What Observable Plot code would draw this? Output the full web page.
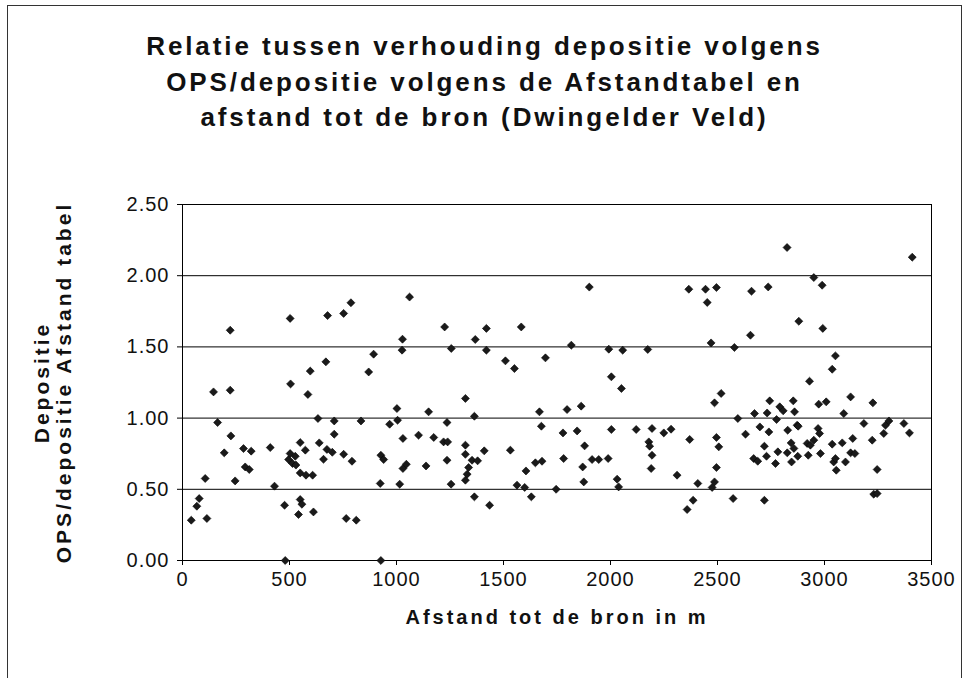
<!DOCTYPE html>
<html>
<head>
<meta charset="utf-8">
<script src="https://cdn.jsdelivr.net/npm/d3@7"></script>
<script src="https://cdn.jsdelivr.net/npm/@observablehq/plot@0.6"></script>
<style>
  html, body { margin: 0; padding: 0; background: #fff; }
  #wrap { position: relative; width: 969px; height: 678px; overflow: hidden; font-family: "Liberation Sans", Arial, sans-serif; }
  #border { position: absolute; left: 7px; top: 5px; width: 955px; height: 700px; border: 1px solid #333; box-sizing: border-box; }
  #title { position: absolute; left: 0; top: 29px; width: 969px; text-align: center; font-weight: bold; font-size: 26px; line-height: 35.5px; letter-spacing: 2.9px; color: #111; }
  #chart { position: absolute; left: 0; top: 180px; }
  g[aria-label="y-axis tick label"] text, g[aria-label="x-axis tick label"] text { letter-spacing: 1px; }
  g[font-weight="bold"] text { letter-spacing: 3px; }
</style>
</head>
<body>
<div id="wrap">
  <div id="border"></div>
  <div id="title">Relatie tussen verhouding depositie volgens<br>OPS/depositie volgens de Afstandtabel en<br>afstand tot de bron (Dwingelder Veld)</div>
  <div id="chart"></div>
</div>
<script>
// Distance to source (m)
const distance = [41,67,78,106,114,145,164,195,223,223,226,246,285,293,312,321,410,430,477,480,
496,503,503,505,514,527,530,542,550,550,550,558,574,577,586,597,608,612,633,639,
659,670,675,678,700,709,709,753,753,765,787,792,812,834,870,893,924,927,927,940,
968,1002,1005,1015,1026,1028,1030,1030,1046,1061,1103,1138,1150,1174,1220,1225,1236,1236,1239,1255,
1256,1322,1322,1322,1322,1330,1337,1353,1364,1364,1368,1379,1410,1420,1420,1435,1509,1532,1551,1563,
1583,1599,1605,1630,1649,1668,1677,1680,1696,1746,1778,1781,1797,1817,1844,1863,1870,1875,1879,1901,
1914,1945,1989,1992,2004,2004,2031,2038,2051,2057,2120,2174,2179,2183,2190,2194,2194,2249,2283,2311,
2358,2366,2370,2386,2408,2444,2452,2470,2475,2486,2486,2495,2495,2495,2506,2517,2573,2579,2595,2631,
2654,2659,2669,2673,2688,2698,2719,2719,2729,2732,2737,2740,2744,2771,2776,2782,2791,2807,2825,2826,
2828,2844,2846,2854,2857,2860,2872,2875,2877,2880,2919,2924,2930,2934,2950,2950,2970,2973,2977,2981,
2989,2992,3008,3036,3036,3043,3051,3051,3055,3083,3090,3098,3122,3122,3132,3142,3184,3223,3226,3230,
3246,3246,3277,3285,3301,3371,3397,3410];
// Ratio deposition OPS / deposition Afstandtabel
const ratio = [0.283,0.381,0.435,0.576,0.295,1.184,0.969,0.756,1.617,1.196,0.875,0.559,0.786,0.657,0.639,0.768,0.793,0.522,0.388,0.00,
0.709,1.70,0.751,1.24,0.681,0.732,0.67,0.323,0.828,0.615,0.428,0.395,0.775,0.599,1.166,1.33,0.599,0.341,0.997,0.826,
0.711,1.395,0.78,1.72,0.76,0.98,0.887,1.735,0.746,0.295,1.81,0.697,0.283,0.98,1.324,1.449,0.541,0.739,0.00,0.709,
0.957,1.067,0.985,0.536,1.477,1.554,0.857,0.646,0.676,1.85,0.88,0.664,1.044,0.864,0.833,1.64,0.969,0.704,0.833,0.536,
1.489,1.138,0.81,0.746,0.564,0.606,0.653,0.704,1.013,0.447,1.552,0.70,0.77,1.63,1.477,0.388,1.402,0.775,1.348,0.529,
1.64,0.513,0.629,0.447,0.686,1.044,0.943,0.697,1.423,0.50,0.896,0.716,1.06,1.512,0.91,1.084,0.657,0.552,0.805,1.92,
0.709,0.709,0.716,1.484,1.29,0.92,0.571,0.517,1.208,1.477,0.92,1.482,0.833,0.803,0.646,0.927,0.739,0.896,0.922,0.599,
0.358,1.905,0.85,0.423,0.541,1.905,1.812,1.528,0.513,1.107,0.552,1.917,0.864,0.653,0.798,1.173,0.435,1.496,0.997,0.887,
1.582,1.891,0.716,1.032,0.697,0.938,0.803,0.423,0.732,1.036,1.921,0.903,1.121,0.681,0.99,0.763,1.079,1.051,2.198,0.756,
0.915,0.826,0.692,1.121,0.787,1.044,0.95,0.732,0.943,1.68,0.822,0.739,1.259,0.81,1.987,0.845,0.927,1.098,0.892,0.751,
1.933,1.63,1.114,1.343,0.817,0.692,1.437,0.716,0.634,0.826,1.032,0.692,1.149,0.756,0.857,0.751,0.962,0.845,1.107,0.466,
0.639,0.47,0.892,0.95,0.98,0.962,0.896,2.13];
const xTicks = [0,500,1000,1500,2000,2500,3000,3500];
const yTicks = [0,0.5,1,1.5,2,2.5];
const xLabel = "Afstand tot de bron in m";
const yLabel1 = "Depositie";
const yLabel2 = "OPS/depositie Afstand tabel";

const points = distance.map((d, i) => ({d, r: ratio[i]}));

const chart = Plot.plot({
  width: 969,
  height: 498,
  marginLeft: 182,
  marginRight: 38,
  marginTop: 24,
  marginBottom: 118,
  style: {fontFamily: "'Liberation Sans', Arial, sans-serif", fontSize: "20px", color: "#111", background: "transparent", overflow: "visible"},
  x: {domain: [0, 3500]},
  y: {domain: [0, 2.5]},
  marks: [
    Plot.gridY(yTicks, {stroke: "#000", strokeOpacity: 1, strokeWidth: 1}),
    Plot.frame({stroke: "#000", strokeWidth: 1}),
    Plot.axisX({ticks: xTicks, tickSize: 5, tickPadding: 6, tickFormat: d => String(d), label: null, stroke: "#000"}),
    Plot.axisY({ticks: yTicks, tickSize: 5, tickPadding: 8, tickFormat: d => d.toFixed(2), label: null, stroke: "#000"}),
    Plot.dot(points, {x: "d", y: "r", symbol: "diamond2", r: 3.6, fill: "#1a1a1a", stroke: "#000", strokeWidth: 0.6}),
    Plot.text([xLabel], {frameAnchor: "bottom", dy: 63, fontWeight: "bold", fontSize: 20, fill: "#111"}),
    Plot.text([yLabel1], {frameAnchor: "left", textAnchor: "middle", dx: -140, rotate: -90, fontWeight: "bold", fontSize: 21, fill: "#111"}),
    Plot.text([yLabel2], {frameAnchor: "left", textAnchor: "middle", dx: -118, rotate: -90, fontWeight: "bold", fontSize: 21, fill: "#111"})
  ]
});
document.getElementById("chart").appendChild(chart);
</script>
</body>
</html>
